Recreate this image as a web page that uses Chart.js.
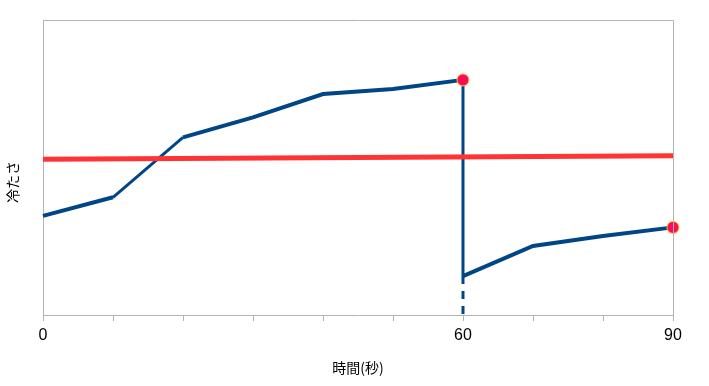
<!DOCTYPE html>
<html>
<head>
<meta charset="utf-8">
<script src="https://cdn.jsdelivr.net/npm/chart.js@4/dist/chart.umd.min.js"></script>
<style>
html,body{margin:0;padding:0;background:#fff;}
canvas{display:block;}
</style>
</head>
<body>
<canvas id="c" width="709" height="386"></canvas>
<script>
// time (seconds)
const blueTimes = [0, 10, 20, 30, 40, 50, 60, 60, 70, 80, 90];
const blueValues = [33.6, 39.9, 60.2, 67.0, 74.9, 76.6, 79.7, 13.2, 23.4, 26.8, 29.7];
const redTimes = [0, 90];
const redValues = [52.8, 54.0];
const dashTimes = [60, 60];
const dashValues = [13.2, 0];
const markerTimes = [60, 90];
const markerValues = [79.7, 29.7];
const tickLabels = {0: '0', 60: '60', 90: '90'};
const xTitle = '時間(秒)';
const yTitle = '冷たさ';

const pts = (xs, ys) => xs.map((x, i) => ({x: x, y: ys[i]}));
const GRAY = '#b3b3b3';
const BLUE = '#004586';

const frame = {
  id: 'frame',
  afterDraw(chart) {
    const ctx = chart.ctx, a = chart.chartArea;
    ctx.save();
    ctx.strokeStyle = GRAY;
    ctx.lineWidth = 1;
    ctx.beginPath();
    ctx.moveTo(Math.round(a.left) + 0.5, Math.round(a.top) + 0.5);
    ctx.lineTo(Math.round(a.right) + 0.5, Math.round(a.top) + 0.5);
    ctx.lineTo(Math.round(a.right) + 0.5, Math.round(a.bottom) + 0.5);
    ctx.stroke();
    // y axis title
    ctx.fillStyle = '#000';
    ctx.font = '14px "Noto Sans CJK JP"';
    ctx.textAlign = 'center';
    ctx.textBaseline = 'middle';
    ctx.translate(12.5, 182);
    ctx.rotate(-Math.PI / 2);
    ctx.fillText(yTitle, 0, 0);
    ctx.restore();
  }
};

new Chart(document.getElementById('c'), {
  type: 'line',
  data: {
    datasets: [
      {
        data: pts(redTimes, redValues),
        borderColor: '#ff3333',
        borderWidth: 5,
        pointRadius: 0,
        order: 0
      },
      {
        data: pts(markerTimes, markerValues),
        showLine: false,
        pointRadius: 6,
        pointBackgroundColor: '#ff0a5a',
        pointBorderColor: '#ffc820',
        pointBorderWidth: 1,
        order: -1,
        clip: false
      },
      {
        data: pts(blueTimes, blueValues),
        borderColor: BLUE,
        borderWidth: 4,
        pointRadius: 0,
        order: 1,
        clip: false,
        segment: {
          borderWidth: (c) => (c.p0.parsed.x === c.p1.parsed.x || c.p0DataIndex === 1) ? 3 : 4
        }
      },
      {
        data: pts(dashTimes, dashValues),
        borderColor: BLUE,
        borderWidth: 3,
        borderDash: [8, 7],
        borderCapStyle: 'butt',
        pointRadius: 0,
        order: 2
      }
    ]
  },
  options: {
    responsive: false,
    animation: false,
    events: [],
    layout: {padding: {left: 0, right: 36, top: 20, bottom: 0}},
    plugins: {legend: {display: false}, tooltip: {enabled: false}},
    scales: {
      x: {
        type: 'linear',
        min: 0,
        max: 90,
        afterFit(s) { s.height = 71; },
        border: {display: true, color: GRAY, width: 1},
        grid: {drawOnChartArea: false, drawTicks: true, tickLength: 6, color: GRAY},
        ticks: {
          stepSize: 10,
          autoSkip: false,
          maxRotation: 0,
          padding: 5,
          color: '#000',
          font: {family: '"Liberation Sans", sans-serif', size: 16},
          callback: (v) => (tickLabels[v] !== undefined ? tickLabels[v] : '')
        },
        title: {
          display: true,
          text: xTitle,
          color: '#000',
          font: {family: '"Noto Sans CJK JP"', size: 14},
          padding: {top: 0, bottom: 10}
        }
      },
      y: {
        min: 0,
        max: 100,
        afterFit(s) { s.width = 43; },
        border: {display: true, color: GRAY, width: 1},
        grid: {display: false, drawTicks: false},
        ticks: {display: false}
      }
    }
  },
  plugins: [frame]
});
</script>
</body>
</html>
